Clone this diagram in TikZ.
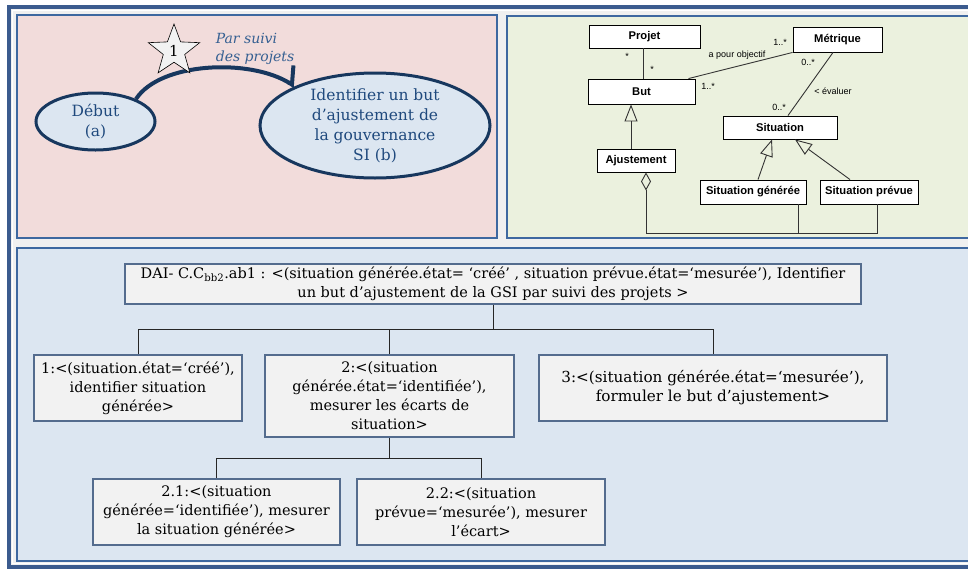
\documentclass[tikz,border=0pt]{standalone}
\usepackage{fontspec}
\setmainfont{DejaVu Serif}
\setsansfont{Liberation Sans}
\usepackage{tikz}
\usetikzlibrary{shapes.geometric, arrows.meta, positioning, calc}
\definecolor{cadreBleu}{RGB}{59,91,142}
\definecolor{bordBleu}{RGB}{62,104,160}
\definecolor{fondGris}{RGB}{240,240,240}
\definecolor{fondRose}{RGB}{242,220,219}
\definecolor{fondVert}{RGB}{235,241,222}
\definecolor{fondBleu}{RGB}{220,230,241}
\definecolor{bleuNuit}{RGB}{23,55,94}
\definecolor{bleuTexte}{RGB}{31,73,125}
\definecolor{bleuItal}{RGB}{54,96,146}
\definecolor{bordBoite}{RGB}{84,108,142}
\definecolor{fondBoite}{RGB}{242,242,242}
\tikzset{
  gv/panel/.style={draw=bordBleu, line width=1.6pt},
  gv/etat/.style={ellipse, draw=bleuNuit, fill=fondBleu, line width=3pt,
    inner sep=0pt, align=center,
    font=\fontsize{15.5}{20}\selectfont\color{bleuTexte}},
  gv/fleche/.style={-{Straight Barb[left, length=9pt, width=34pt]},
    draw=bleuNuit, line width=4pt},
  gv/etoile/.style={star, star points=5, star point ratio=2.4, draw=black,
    fill=fondBoite, line width=0.6pt, minimum size=54pt, inner sep=0pt,
    font=\fontsize{15}{18}\selectfont},
  gv/note/.style={align=left, inner sep=0pt,
    font=\fontsize{14}{18}\selectfont\itshape\color{bleuItal}},
  uml/classe/.style={rectangle, draw=black, fill=white, line width=0.9pt,
    inner sep=0pt, font=\sffamily\bfseries\fontsize{11.2}{13}\selectfont},
  uml/lien/.style={draw=black!80, line width=0.9pt},
  uml/herit/.style={uml/lien, -{Triangle[open, length=17pt, width=13pt]}},
  uml/agreg/.style={uml/lien, {Diamond[open, length=18pt, width=10pt]}-},
  uml/lbl/.style={inner sep=0pt, font=\sffamily\fontsize{9}{10}\selectfont},
  dai/boite/.style={rectangle, draw=bordBoite, fill=fondBoite, line width=1.2pt,
    align=center, inner sep=0pt, font=\fontsize{14.5}{19}\selectfont},
  dai/trait/.style={draw=black!85, line width=1pt}
}

\begin{document}
\begin{tikzpicture}[x=1pt, y=-1pt]
  \useasboundingbox (0,0) rectangle (968,568);
  \clip (0,0) rectangle (968,568);
  % cadre et panneaux
  \draw[cadreBleu, fill=fondGris, line width=4pt] (9,7) rectangle (990,567);
  \draw[white, line width=1pt] (12.5,10.5) rectangle (990,563.5);
  \draw[gv/panel, fill=fondRose] (17,15) rectangle (497,238);
  \draw[gv/panel, fill=fondVert] (507,16) rectangle (990,238);
  \draw[gv/panel, fill=fondBleu] (17,248) rectangle (990,561);

  % carte
  \node[gv/etat, minimum width=119pt, minimum height=57pt] (debut)
    at (95.5,121.5) {Début\\(a)};
  \node[gv/etat, minimum width=230pt, minimum height=105pt,
    inner xsep=4pt, inner ysep=-3pt] (butgsi)
    at (375,125.5) {Identifier un but\\d’ajustement de\\la gouvernance\\SI (b)};
  \draw[gv/fleche] (debut.29) .. controls (160,62) and (250,58) .. (butgsi.154);
  \node[gv/etoile] (etape) at (174,51) {1};
  \node[gv/note] (strategie) at (255,49) {Par suivi\\des projets};

  % modele UML
  \node[uml/classe, minimum width=111pt, minimum height=23pt] (projet)
    at (644.5,36.5) {Projet};
  \node[uml/classe, minimum width=89pt, minimum height=25pt] (metrique)
    at (837.5,39.5) {Métrique};
  \node[uml/classe, minimum width=107pt, minimum height=25pt] (but)
    at (641.5,91.5) {But};
  \node[uml/classe, minimum width=114pt, minimum height=23pt] (situation)
    at (780,127.5) {Situation};
  \node[uml/classe, minimum width=78pt, minimum height=23pt] (ajustement)
    at (636,160.5) {Ajustement};
  \node[uml/classe, minimum width=106pt, minimum height=24pt] (sitgen)
    at (753,192) {Situation générée};
  \node[uml/classe, minimum width=98pt, minimum height=24pt] (sitprev)
    at (869,192) {Situation prévue};

  \draw[uml/lien] ([xshift=-1.5pt]projet.south) -- ([xshift=1.5pt]but.north);
  \draw[uml/lien] ([xshift=-7pt]but.north east) -- (metrique.south west);
  \draw[uml/lien] ([xshift=-4.5pt]metrique.south) -- ([xshift=8pt]situation.north);
  \draw[uml/herit] ([xshift=-5pt]ajustement.north) -- ([xshift=-5pt]ajustement.north |- but.south);
  \draw[uml/herit] ([xshift=5pt]sitgen.north) -- ([xshift=-8pt]situation.south);
  \draw[uml/herit] ([xshift=-19pt]sitprev.north) -- ([xshift=15pt]situation.south);
  \draw[uml/agreg] ([xshift=10pt]ajustement.south) -- ++(0,61) coordinate (agg)
    -| ([xshift=8pt]sitprev.south);
  \draw[uml/lien] ([xshift=45pt]sitgen.south) -- ([xshift=45pt]sitgen.south |- agg);

  \node[uml/lbl] (mProjet) at (627,56) {*};
  \node[uml/lbl] (mBut) at (652,69) {*};
  \node[uml/lbl] (objectif) at (737,55) {a pour objectif};
  \node[uml/lbl] (mMetA) at (780,42) {1..*};
  \node[uml/lbl] (mButB) at (708,86) {1..*};
  \node[uml/lbl] (mMetB) at (808,62) {0..*};
  \node[uml/lbl] (mSit) at (779,107) {0..*};
  \node[uml/lbl] (evaluer) at (833,91) {< évaluer};

  % arbre de decomposition
  \node[dai/boite, minimum width=736pt, minimum height=40pt] (dai) at (493,284)
    {DAI- C.C\textsubscript{bb2}.ab1 : <(situation générée.état= ‘créé’ , situation prévue.état=‘mesurée’), Identifier\\
     un but d’ajustement de la GSI par suivi des projets >};
  \node[dai/boite, minimum width=208pt, minimum height=66pt] (b1) at (138,388)
    {1:<(situation.état=‘créé’),\\identifier situation\\générée>};
  \node[dai/boite, minimum width=249pt, minimum height=82pt] (b2) at (389.5,396)
    {2:<(situation\\générée.état=‘identifiée’),\\mesurer les écarts de\\situation>};
  \node[dai/boite, minimum width=348pt, minimum height=66pt,
    font=\fontsize{15.2}{19}\selectfont] (b3) at (713,388)
    {3:<(situation générée.état=‘mesurée’),\\formuler le but d’ajustement>};
  \node[dai/boite, minimum width=247pt, minimum height=66pt] (b21) at (216.5,512)
    {2.1:<(situation\\générée=‘identifiée’), mesurer\\la situation générée>};
  \node[dai/boite, minimum width=248pt, minimum height=66pt] (b22) at (481,512)
    {2.2:<(situation\\prévue=‘mesurée’), mesurer\\l’écart>};

  \draw[dai/trait] (dai.south) -- ++(0,25) coordinate (bus1);
  \draw[dai/trait] (bus1) -| (b1.north);
  \draw[dai/trait] (bus1) -| (b2.north);
  \draw[dai/trait] (bus1) -| (b3.north);
  \draw[dai/trait] (b2.south) -- ++(0,21) coordinate (bus2);
  \draw[dai/trait] (bus2) -| (b21.north);
  \draw[dai/trait] (bus2) -| (b22.north);
\end{tikzpicture}
\end{document}
